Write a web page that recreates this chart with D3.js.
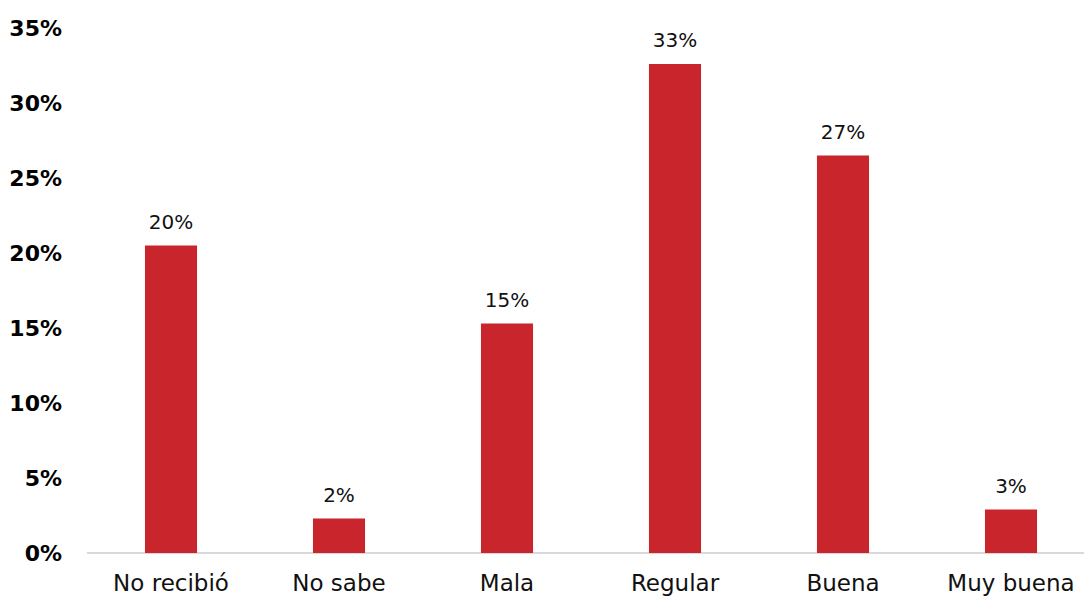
<!DOCTYPE html>
<html><head><meta charset="utf-8">
<script src="https://cdn.jsdelivr.net/npm/d3@7"></script>
<style>body{margin:0;background:#fff}svg{display:block}</style>
</head><body>
<svg id="c" width="1084" height="596"></svg>
<script>
const categories = ["No recibió","No sabe","Mala","Regular","Buena","Muy buena"];
const values = [0.205, 0.023, 0.153, 0.326, 0.265, 0.029];
const valueLabels = ["20%","2%","15%","33%","27%","3%"];
const yTicks = [0,0.05,0.10,0.15,0.20,0.25,0.30,0.35];

const svg = d3.select("#c");
const font = "'DejaVu Sans', sans-serif";
const x = d3.scaleBand().domain(categories).range([87,1095]).paddingInner(0.69).paddingOuter(0.345);
const y = d3.scaleLinear().domain([0,0.35]).range([553,28]);

// y tick labels
svg.append("g").selectAll("text").data(yTicks).join("text")
  .attr("x",62).attr("y",d=>y(d)).attr("dy","0.36em")
  .attr("text-anchor","end").attr("font-family",font).attr("font-weight","bold")
  .attr("font-size",22).attr("fill","#000").text(d=>d3.format(".0%")(d));

// axis line
svg.append("line").attr("x1",87).attr("x2",1084).attr("y1",y(0)).attr("y2",y(0))
  .attr("stroke","#d9d9d9").attr("stroke-width",2);

// bars
svg.append("g").selectAll("rect").data(values).join("rect")
  .attr("x",(d,i)=>x(categories[i])).attr("width",x.bandwidth())
  .attr("y",d=>y(d)).attr("height",d=>y(0)-y(d)).attr("fill","#C9252C");

// value labels
svg.append("g").selectAll("text").data(values).join("text")
  .attr("x",(d,i)=>x(categories[i])+x.bandwidth()/2).attr("y",d=>y(d)-17)
  .attr("text-anchor","middle").attr("font-family",font).attr("font-weight","normal")
  .attr("font-size",20).attr("fill","#111").text((d,i)=>valueLabels[i]);

// category labels
svg.append("g").selectAll("text").data(categories).join("text")
  .attr("x",d=>x(d)+x.bandwidth()/2).attr("y",591)
  .attr("text-anchor","middle").attr("font-family",font).attr("font-weight","normal")
  .attr("font-size",23).attr("fill","#111").text(d=>d);
</script>
</body></html>
